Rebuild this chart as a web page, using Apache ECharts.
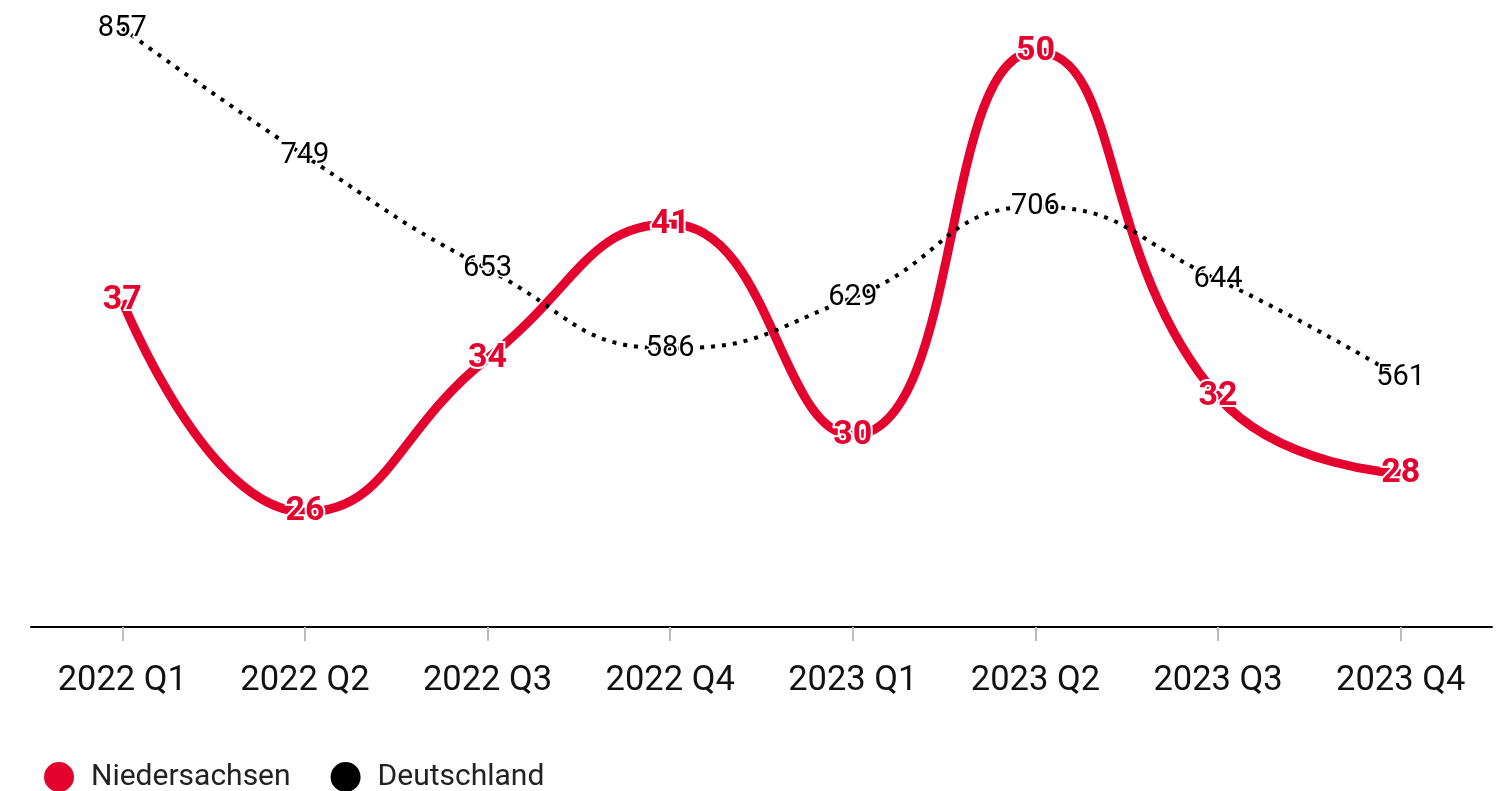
<!DOCTYPE html>
<html>
<head>
<meta charset="utf-8">
<script src="https://cdn.jsdelivr.net/npm/echarts@6/dist/echarts.min.js"></script>
<style>
html,body{margin:0;padding:0;background:#fff;}
#chart{width:1510px;height:791px;}
</style>
</head>
<body>
<div id="chart"></div>
<script>
const categories = ['2022 Q1','2022 Q2','2022 Q3','2022 Q4','2023 Q1','2023 Q2','2023 Q3','2023 Q4'];
const niedersachsen = [37, 26, 34, 41, 30, 50, 32, 28];
const deutschland = [857, 749, 653, 586, 629, 706, 644, 561];
const seriesNames = ['Niedersachsen', 'Deutschland'];

const red = '#e4032e';
const chart = echarts.init(document.getElementById('chart'));
chart.setOption({
  animation: false,
  textStyle: { fontFamily: 'Roboto' },
  grid: { left: 31, right: 18, top: 13, bottom: 164, containLabel: false },
  legend: {
    left: 39, top: 757,
    icon: 'circle', itemWidth: 30, itemHeight: 30, itemGap: 40,
    textStyle: { fontSize: 30, color: '#222', fontFamily: 'Roboto', padding: [0, 0, 0, 12] },
    data: seriesNames
  },
  xAxis: {
    type: 'category',
    data: categories,
    boundaryGap: true,
    axisLine: { lineStyle: { color: '#000', width: 2 } },
    axisTick: { show: true, alignWithLabel: true, length: 14, lineStyle: { color: '#bbb', width: 2 } },
    axisLabel: { fontSize: 34.5, color: '#111', margin: 37, fontFamily: 'Roboto' },
    splitLine: { show: false }
  },
  yAxis: [
    { type: 'value', min: 20, max: 52, show: false },
    { type: 'value', min: 350, max: 870, show: false }
  ],
  series: [
    {
      name: seriesNames[0], type: 'line', yAxisIndex: 0,
      data: niedersachsen, smooth: true,
      symbol: 'circle', symbolSize: 0.1,
      color: red,
      lineStyle: { color: red, width: 9 },
      label: {
        show: true, position: 'inside', color: red, fontWeight: 'bold',
        fontSize: 34, fontFamily: 'Roboto',
        textBorderColor: '#fff', textBorderWidth: 4
      },
      z: 2
    },
    {
      name: seriesNames[1], type: 'line', yAxisIndex: 1,
      data: deutschland, smooth: true,
      symbol: 'circle', symbolSize: 0.1,
      color: '#000',
      lineStyle: { color: '#000', width: 4, type: [4, 7] },
      label: {
        show: true, position: 'inside', color: '#000',
        fontSize: 29, fontFamily: 'Roboto',
        textBorderColor: '#fff', textBorderWidth: 3
      },
      z: 3
    }
  ]
});
</script>
</body>
</html>
